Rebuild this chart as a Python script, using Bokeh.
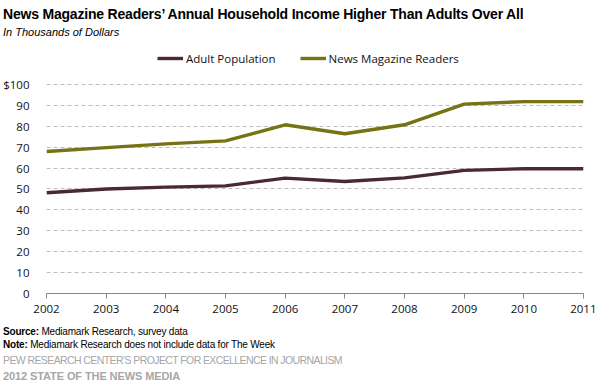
from bokeh.plotting import figure
from bokeh.models import Range1d, Legend, LegendItem, FixedTicker, Div
from bokeh.layouts import column
from bokeh.embed import file_html
from bokeh.resources import INLINE

years = [2002, 2003, 2004, 2005, 2006, 2007, 2008, 2009, 2010, 2011]
adult_population = [48.2, 50.0, 50.9, 51.5, 55.2, 53.6, 55.3, 58.9, 59.7, 59.7]
news_mag_readers = [67.9, 69.8, 71.6, 73.0, 80.7, 76.4, 80.7, 90.6, 91.8, 91.8]
y_ticks = [0, 10, 20, 30, 40, 50, 60, 70, 80, 90, 100]

title_text = "News Magazine Readers\u2019 Annual Household Income Higher Than Adults Over All"
subtitle_text = "In Thousands of Dollars"
source_text = "Mediamark Research, survey data"
note_text = "Mediamark Research does not include data for The Week"
org_text = "PEW RESEARCH CENTER\u2019S PROJECT FOR EXCELLENCE IN JOURNALISM"
report_text = "2012 STATE OF THE NEWS MEDIA"

ADULT_C = "#4b2838"
NEWS_C = "#777213"
TICK_FONT = "Open Sans"
SANS = "'Liberation Sans', Arial, sans-serif"
W = 596

def line_html(text, mt, size, lh, color="#000", weight="normal", style="normal", ls=0):
    return (f'<div style="margin:{mt}px 0 0 0; padding:0 0 0 3px; white-space:nowrap; '
            f'font-family:{SANS}; font-size:{size}px; line-height:{lh}px; color:{color}; '
            f'font-weight:{weight}; font-style:{style}; letter-spacing:{ls}px;">{text}</div>')

top_div = Div(
    text=line_html(title_text, 7, 14, 14, weight="bold", ls=-0.2)
         + line_html(subtitle_text, 5, 11, 13, style="italic"),
    width=W, height=48, margin=(0, 0, 0, 0))

p = figure(width=W, height=272, output_backend="svg", toolbar_location=None,
           x_range=Range1d(2002, 2011), y_range=Range1d(0, 117.2),
           min_border_left=38, min_border_right=13, min_border_top=0,
           min_border_bottom=27)
p.outline_line_color = None

r1 = p.line(years, adult_population, line_color=ADULT_C, line_width=3.4)
r2 = p.line(years, news_mag_readers, line_color=NEWS_C, line_width=3.4)

p.xaxis.ticker = FixedTicker(ticks=years)
p.xaxis.axis_line_color = "#868686"
p.xaxis.major_tick_line_color = "#868686"
p.xaxis.major_tick_in = 0
p.xaxis.major_tick_out = 5
p.xaxis.minor_tick_line_color = None
p.xaxis.major_label_text_font = TICK_FONT
p.xaxis.major_label_text_font_size = "11.5px"
p.xaxis.major_label_text_color = "#111111"
p.xaxis.major_label_standoff = 6

p.yaxis.ticker = FixedTicker(ticks=y_ticks)
p.yaxis.axis_line_color = None
p.yaxis.major_tick_line_color = None
p.yaxis.minor_tick_line_color = None
p.yaxis.major_label_text_font = TICK_FONT
p.yaxis.major_label_text_font_size = "11.5px"
p.yaxis.major_label_text_color = "#111111"
p.yaxis.major_label_standoff = 11
p.yaxis.major_label_overrides = {100: "$100"}

p.xgrid.grid_line_color = None
p.ygrid.grid_line_color = "#bdbdbd"
p.ygrid.grid_line_dash = "4 3"
p.ygrid.grid_line_width = 1

legend = Legend(items=[LegendItem(label="Adult Population", renderers=[r1]),
                       LegendItem(label="News Magazine Readers", renderers=[r2])],
                orientation="horizontal", location=(111, 227),
                glyph_width=26, glyph_height=16, label_height=16,
                label_standoff=3, spacing=24, padding=0, margin=0,
                border_line_color=None, background_fill_alpha=0,
                label_text_font=TICK_FONT, label_text_font_size="11.5px",
                label_text_color="#111111")
p.add_layout(legend, "center")

bottom_div = Div(
    text=line_html(f"<b>Source:</b> {source_text}", 6, 10, 12, ls=-0.2)
         + line_html(f"<b>Note:</b> {note_text}", 1, 10, 12, ls=-0.2)
         + line_html(org_text, 3, 10.5, 12, color="#a6a6a6", ls=-0.6)
         + line_html(report_text, 4, 11, 13, color="#a6a6a6", weight="bold", ls=-0.1),
    width=W, height=70, margin=(0, 0, 0, 0))

layout = column(top_div, p, bottom_div, spacing=0)
open("out.html", "w").write(file_html(layout, INLINE))
